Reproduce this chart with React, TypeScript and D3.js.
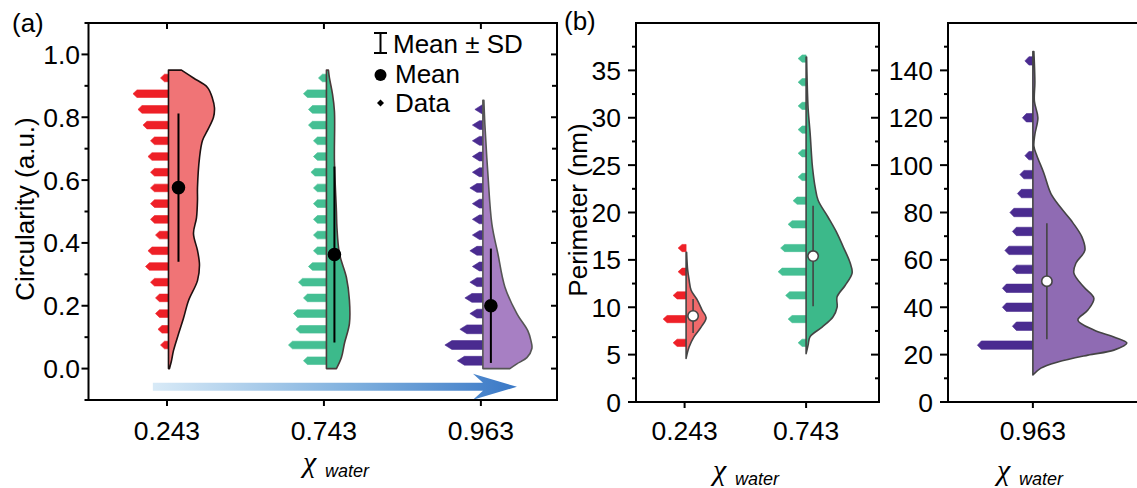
import React from "react";
import * as d3 from "d3";

const FONT = "'Liberation Sans', Arial, Helvetica, sans-serif";
const W = 1137;
const H = 488;
const FS = 26.5;

// ---------------- Panel (a): Circularity ----------------
const groupsA = ["0.243", "0.743", "0.963"];
const yMajorA = [0, 0.2, 0.4, 0.6, 0.8, 1.0];
const yMinorA = [-0.1, 0.1, 0.3, 0.5, 0.7, 0.9, 1.1];

const redBinsA = [0.075, 0.125, 0.175, 0.225, 0.275, 0.325, 0.375, 0.425, 0.475, 0.525, 0.575, 0.625, 0.675, 0.725, 0.775, 0.825, 0.875, 0.925];
const redCountsA = [1, 2, 3, 3, 5, 7, 6, 3, 5, 5, 5, 5, 6, 5, 8, 10, 12, 1];
const greenBinsA = [0.025, 0.075, 0.125, 0.175, 0.225, 0.275, 0.325, 0.375, 0.425, 0.475, 0.525, 0.575, 0.625, 0.675, 0.725, 0.775, 0.825, 0.875, 0.925];
const greenCountsA = [7, 13, 10, 11, 7, 9, 5, 3, 3, 3, 3, 3, 4, 3, 3, 5, 5, 7, 1];
const purpleBinsA = [0.025, 0.075, 0.125, 0.175, 0.225, 0.275, 0.325, 0.375, 0.425, 0.475, 0.525, 0.575, 0.625, 0.675, 0.725, 0.775, 0.825];
const purpleCountsA = [8, 13, 7, 3, 5, 3, 2, 3, 2, 2, 2, 3, 2, 2, 2, 2, 1];

// kernel density profiles (value, relative density)
const redProfA: [number, number][] = [[0, 0.02], [0.025, 0.06], [0.057, 0.1], [0.11, 0.2], [0.16, 0.3], [0.216, 0.4], [0.28, 0.58], [0.33, 0.62], [0.376, 0.58], [0.43, 0.5], [0.48, 0.56], [0.535, 0.58], [0.576, 0.58], [0.67, 0.62], [0.726, 0.68], [0.758, 0.78], [0.8, 0.9], [0.83, 0.92], [0.86, 0.88], [0.895, 0.78], [0.925, 0.5], [0.95, 0.26]];
const greenProfA: [number, number][] = [[0, 0.2], [0.035, 0.3], [0.08, 0.36], [0.143, 0.46], [0.217, 0.46], [0.29, 0.4], [0.366, 0.26], [0.45, 0.21], [0.5, 0.2], [0.66, 0.16], [0.82, 0.16], [0.875, 0.12], [0.925, 0.06], [0.95, 0.04]];
const purpleProfA: [number, number][] = [[0, 0.54], [0.015, 0.68], [0.035, 0.88], [0.064, 0.98], [0.09, 0.96], [0.12, 0.9], [0.175, 0.68], [0.26, 0.44], [0.366, 0.3], [0.46, 0.18], [0.62, 0.1], [0.777, 0.04], [0.854, 0.02]];

const meansA = [0.576, 0.363, 0.2];
const sdsA = [0.236, 0.28, 0.182];

// ---------------- Panel (b): Perimeter ----------------
const groupsB1 = ["0.243", "0.743"];
const yMajorB1 = [0, 5, 10, 15, 20, 25, 30, 35];
const yMinorB1 = [2.5, 7.5, 12.5, 17.5, 22.5, 27.5, 32.5, 37.5];
const redBinsB = [6.25, 8.75, 11.25, 13.75, 16.25];
const redCountsB = [3, 7, 3, 1, 1];
const greenBinsB = [6.25, 8.75, 11.25, 13.75, 16.25, 18.75, 21.25, 23.75, 26.25, 28.75, 31.25, 33.75, 36.25];
const greenCountsB = [1, 5, 6, 9, 8, 5, 3, 1, 1, 1, 1, 1, 1];
const redProfB: [number, number][] = [[4.6, 0], [5.8, 0.03], [6.9, 0.08], [7.9, 0.15], [8.9, 0.2], [9.7, 0.16], [10.8, 0.11], [11.8, 0.05], [12.9, 0.03], [14, 0.015], [15.8, 0.005]];
const greenProfB: [number, number][] = [[5.1, 0], [6.0, 0.02], [6.9, 0.04], [7.9, 0.16], [9.0, 0.27], [10.0, 0.31], [11.1, 0.31], [12.3, 0.39], [13.6, 0.46], [14.7, 0.44], [16.4, 0.37], [17.8, 0.31], [19.5, 0.22], [21.3, 0.12], [22.7, 0.09], [24.2, 0.07], [25.2, 0.06], [28.4, 0.04], [31, 0.02], [34, 0.01], [36.4, 0.005]];
const meansB1 = [9.08, 15.4];
const sdsB1 = [1.8, 5.3];

const groupsB2 = ["0.963"];
const yMajorB2 = [0, 20, 40, 60, 80, 100, 120, 140];
const yMinorB2 = [10, 30, 50, 70, 90, 110, 130, 150];
const purpleBinsB = [24, 32, 40, 48, 56, 64, 72, 80, 88, 96, 104, 120, 144];
const purpleCountsB = [20, 6, 10, 10, 6, 9, 6, 7, 4, 3, 1, 2, 1];
const purpleProfB: [number, number][] = [[11.4, 0], [14.3, 0.08], [16.9, 0.25], [19.8, 0.55], [21.9, 0.81], [24.9, 0.94], [27.4, 0.81], [30.4, 0.61], [34.6, 0.45], [38.8, 0.55], [43.8, 0.61], [48.5, 0.51], [54.4, 0.41], [58.6, 0.43], [64, 0.52], [69.7, 0.49], [76.8, 0.38], [82, 0.28], [88, 0.18], [96.6, 0.11], [104, 0.04], [108, 0.01], [113, 0.02], [120, 0.05], [127, 0.015], [135, 0.02], [148, 0.01]];
const meansB2 = [51];
const sdsB2 = [24.5];

// ---------------- Scales ----------------
const xA = d3.scaleLinear().domain([0.5, 3.485]).range([88.5, 557]);
const yA = d3.scaleLinear().domain([-0.1, 1.1]).range([400, 23]);
const dA = d3.scaleLinear().domain([0, 1]).range([0, 50]);

const xB1 = d3.scaleLinear().domain([0.6, 2.6]).range([636, 879]);
const yB1 = d3.scaleLinear().domain([0, 40]).range([402, 23]);
const xB2 = d3.scaleLinear().domain([0.3, 1.9]).range([948, 1142]);
const yB2 = d3.scaleLinear().domain([0, 160]).range([402, 23]);
const dB = d3.scaleLinear().domain([0, 1]).range([0, 100]);

const STEP = 2.5;
const BASE = 8;

function rowPath(c: number, y: number, n: number, hw: number, hh: number) {
  const len = BASE + (n - 1) * STEP;
  const xl = c - len;
  return `M${xl},${y}L${xl + hw},${y - hh}L${c},${y - hh}L${c},${y + hh}L${xl + hw},${y + hh}Z`;
}

type VProps = {
  c: number;
  bins: number[];
  counts: number[];
  prof: [number, number][];
  yS: d3.ScaleLinear<number, number>;
  dS: d3.ScaleLinear<number, number>;
  fill: string;
  stroke: string;
  strokeW: number;
  rowColor: string;
  hw: number;
  hh: number;
  mean: number;
  sd: number;
  meanDx: number;
  dotR: number;
  dotFill: string;
  dotStroke: string;
  sdColor: string;
  sdW: number;
};

function Violin(p: VProps) {
  const area = d3
    .area<[number, number]>()
    .y((d) => p.yS(d[0]))
    .x0(p.c)
    .x1((d) => p.c + p.dS(d[1]))
    .curve(d3.curveCatmullRom.alpha(0.5));
  const mx = p.c + p.meanDx;
  return (
    <g>
      {p.bins.map((b, i) => (
        <path key={i} d={rowPath(p.c, p.yS(b), p.counts[i], p.hw, p.hh)} fill={p.rowColor} stroke={p.rowColor} strokeWidth={0.6} strokeLinejoin="round" />
      ))}
      <path d={area(p.prof) || ""} fill={p.fill} stroke={p.stroke} strokeWidth={p.strokeW} strokeLinejoin="round" />
      <line x1={mx} x2={mx} y1={p.yS(p.mean + p.sd)} y2={p.yS(p.mean - p.sd)} stroke={p.sdColor} strokeWidth={p.sdW} />
      <circle cx={mx} cy={p.yS(p.mean)} r={p.dotR} fill={p.dotFill} stroke={p.dotStroke} strokeWidth={1.6} />
    </g>
  );
}

function ChiLabel({ x, y }: { x: number; y: number }) {
  return (
    <g>
      <text x={x} y={y} fontFamily="'Liberation Serif', 'Times New Roman', serif" fontStyle="italic" fontSize={30}>χ</text>
      <text x={x + 22} y={y + 5} fontFamily={FONT} fontStyle="italic" fontSize={18}>water</text>
    </g>
  );
}

export default function App() {
  const fmtA = d3.format(".1f");
  const arrowY = yA(-0.058);
  const ax0 = xA(0.91);
  const ax1 = xA(3.23);
  return (
    <svg width={W} height={H} style={{ position: "absolute", left: 0, top: 0, background: "#fff" }} fontFamily={FONT}>
      <defs>
        <linearGradient id="arrowGrad" gradientUnits="userSpaceOnUse" x1={ax0} x2={ax1} y1={0} y2={0}>
          <stop offset="0" stopColor="#d8eaf7" />
          <stop offset="0.55" stopColor="#7fb0de" />
          <stop offset="1" stopColor="#3a78c6" />
        </linearGradient>
      </defs>
      <rect x={0} y={0} width={W} height={H} fill="#fff" />

      {/* ================= Panel (a) ================= */}
      <text x={12} y={32} fontSize={26}>(a)</text>
      <path
        d={`M${ax0},${arrowY - 4}L${ax1 - 34},${arrowY - 4}L${ax1 - 44},${arrowY - 13}L${ax1},${arrowY}L${ax1 - 44},${arrowY + 13}L${ax1 - 34},${arrowY + 4}L${ax0},${arrowY + 4}Z`}
        fill="url(#arrowGrad)"
      />
      <Violin c={xA(1) + 1.5} bins={redBinsA} counts={redCountsA} prof={redProfA} yS={yA} dS={dA}
        fill="#f07476" stroke="#1e1010" strokeW={1.6} rowColor="#ee2027" hw={4} hh={3.8}
        mean={meansA[0]} sd={sdsA[0]} meanDx={10} dotR={6} dotFill="#000" dotStroke="#000" sdColor="#000" sdW={2} />
      <Violin c={xA(2) + 2.5} bins={greenBinsA} counts={greenCountsA} prof={greenProfA} yS={yA} dS={dA}
        fill="#3cba8b" stroke="#4a3a3a" strokeW={1.6} rowColor="#44bf93" hw={4} hh={3.8}
        mean={meansA[1]} sd={sdsA[1]} meanDx={8} dotR={6} dotFill="#000" dotStroke="#000" sdColor="#000" sdW={2} />
      <Violin c={xA(3) + 2} bins={purpleBinsA} counts={purpleCountsA} prof={purpleProfA} yS={yA} dS={dA}
        fill="#a77fc3" stroke="#555" strokeW={1.6} rowColor="#4a2b90" hw={7} hh={4.4}
        mean={meansA[2]} sd={sdsA[2]} meanDx={8} dotR={6} dotFill="#000" dotStroke="#000" sdColor="#000" sdW={2} />
      <rect x={xA.range()[0]} y={23} width={xA.range()[1] - xA.range()[0]} height={400 - 23} fill="none" stroke="#000" strokeWidth={2} />
      {yMajorA.map((t) => (
        <g key={t}>
          <line x1={88.5} x2={81.5} y1={yA(t)} y2={yA(t)} stroke="#000" strokeWidth={2} />
          <line x1={557} x2={551} y1={yA(t)} y2={yA(t)} stroke="#000" strokeWidth={2} />
          <text x={80} y={yA(t)} dy="0.36em" textAnchor="end" fontSize={FS}>{fmtA(t)}</text>
        </g>
      ))}
      {yMinorA.map((t) => (
        <g key={t}>
          <line x1={88.5} x2={84.5} y1={yA(t)} y2={yA(t)} stroke="#000" strokeWidth={2} />
          <line x1={557} x2={552} y1={yA(t)} y2={yA(t)} stroke="#000" strokeWidth={2} />
        </g>
      ))}
      {groupsA.map((g, i) => (
        <g key={g}>
          <line x1={xA(i + 1)} x2={xA(i + 1)} y1={400} y2={406} stroke="#000" strokeWidth={2} />
          <line x1={xA(i + 1)} x2={xA(i + 1)} y1={23} y2={29} stroke="#000" strokeWidth={2} />
          <text x={xA(i + 1)} y={440} textAnchor="middle" fontSize={FS}>{g}</text>
        </g>
      ))}
      <text transform="translate(34,209) rotate(-90)" textAnchor="middle" fontSize={26}>Circularity (a.u.)</text>
      <ChiLabel x={303} y={472} />
      <g>
        <line x1={380.5} x2={380.5} y1={33} y2={53} stroke="#000" strokeWidth={2} />
        <line x1={374} x2={387} y1={33} y2={33} stroke="#000" strokeWidth={2} />
        <line x1={374} x2={387} y1={53} y2={53} stroke="#000" strokeWidth={2} />
        <text x={393} y={53} fontSize={26}>Mean ± SD</text>
        <circle cx={380.5} cy={75} r={6} fill="#000" />
        <text x={395} y={83} fontSize={26}>Mean</text>
        <path d="M380.5,99.5L384,103L380.5,106.5L377,103Z" fill="#000" />
        <text x={395} y={112} fontSize={26}>Data</text>
      </g>

      {/* ================= Panel (b) left ================= */}
      <text x={564} y={30} fontSize={26}>(b)</text>
      <Violin c={xB1(1) + 1.5} bins={redBinsB} counts={redCountsB} prof={redProfB} yS={yB1} dS={dB}
        fill="#f06a6b" stroke="#444" strokeW={1.6} rowColor="#ee2027" hw={4} hh={3.6}
        mean={meansB1[0]} sd={sdsB1[0]} meanDx={7} dotR={5.2} dotFill="#fff" dotStroke="#444" sdColor="#444" sdW={1.6} />
      <Violin c={xB1(2)} bins={greenBinsB} counts={greenCountsB} prof={greenProfB} yS={yB1} dS={dB}
        fill="#3cb98a" stroke="#444" strokeW={1.6} rowColor="#44bf93" hw={4} hh={3.6}
        mean={meansB1[1]} sd={sdsB1[1]} meanDx={7} dotR={5.2} dotFill="#fff" dotStroke="#444" sdColor="#444" sdW={1.6} />
      <rect x={636} y={23} width={879 - 636} height={402 - 23} fill="none" stroke="#000" strokeWidth={2} />
      {yMajorB1.map((t) => (
        <g key={t}>
          <line x1={636} x2={628} y1={yB1(t)} y2={yB1(t)} stroke="#000" strokeWidth={2} />
          <line x1={879} x2={871} y1={yB1(t)} y2={yB1(t)} stroke="#000" strokeWidth={2} />
          <text x={621} y={yB1(t)} dy="0.36em" textAnchor="end" fontSize={FS}>{t}</text>
        </g>
      ))}
      {yMinorB1.map((t) => (
        <g key={t}>
          <line x1={636} x2={632} y1={yB1(t)} y2={yB1(t)} stroke="#000" strokeWidth={2} />
          <line x1={879} x2={875} y1={yB1(t)} y2={yB1(t)} stroke="#000" strokeWidth={2} />
        </g>
      ))}
      {groupsB1.map((g, i) => (
        <g key={g}>
          <line x1={xB1(i + 1)} x2={xB1(i + 1)} y1={402} y2={408} stroke="#000" strokeWidth={2} />
          <text x={xB1(i + 1)} y={440} textAnchor="middle" fontSize={FS}>{g}</text>
        </g>
      ))}
      <text transform="translate(587,210) rotate(-90)" textAnchor="middle" fontSize={26}>Perimeter (nm)</text>
      <ChiLabel x={713} y={480} />

      {/* ================= Panel (b) right ================= */}
      <Violin c={xB2(1)} bins={purpleBinsB} counts={purpleCountsB} prof={purpleProfB} yS={yB2} dS={dB}
        fill="#8f6bb3" stroke="#444" strokeW={1.6} rowColor="#4a2b90" hw={4} hh={4.2}
        mean={meansB2[0]} sd={sdsB2[0]} meanDx={14} dotR={5.2} dotFill="#fff" dotStroke="#444" sdColor="#444" sdW={1.6} />
      <line x1={948} x2={948} y1={22} y2={403} stroke="#000" strokeWidth={2} />
      <line x1={947} x2={W + 5} y1={23} y2={23} stroke="#000" strokeWidth={2} />
      <line x1={947} x2={W + 5} y1={402} y2={402} stroke="#000" strokeWidth={2} />
      {yMajorB2.map((t) => (
        <g key={t}>
          <line x1={948} x2={940} y1={yB2(t)} y2={yB2(t)} stroke="#000" strokeWidth={2} />
          <text x={933} y={yB2(t)} dy="0.36em" textAnchor="end" fontSize={FS}>{t}</text>
        </g>
      ))}
      {yMinorB2.map((t) => (
        <line key={t} x1={948} x2={944} y1={yB2(t)} y2={yB2(t)} stroke="#000" strokeWidth={2} />
      ))}
      {groupsB2.map((g, i) => (
        <g key={g}>
          <line x1={xB2(i + 1)} x2={xB2(i + 1)} y1={402} y2={408} stroke="#000" strokeWidth={2} />
          <text x={xB2(i + 1)} y={440} textAnchor="middle" fontSize={FS}>{g}</text>
        </g>
      ))}
      <ChiLabel x={997} y={480} />
    </svg>
  );
}
